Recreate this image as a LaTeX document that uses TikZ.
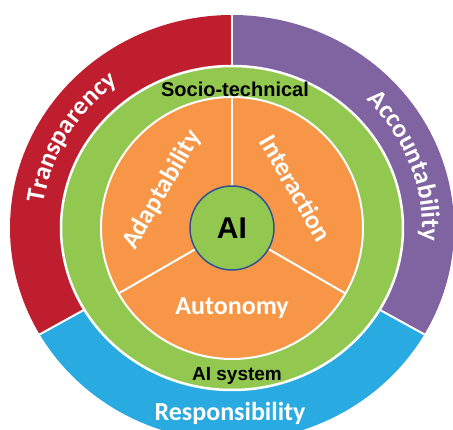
\documentclass[tikz,border=0pt]{standalone}
\usepackage{fontspec}
\setmainfont{Carlito}
\newfontfamily\arialfont{Liberation Sans}
\usetikzlibrary{decorations.text}
\definecolor{tred}{HTML}{BE1E2D}
\definecolor{tpurple}{HTML}{8064A2}
\definecolor{tblue}{HTML}{29ABE2}
\definecolor{tgreen}{HTML}{92C850}
\definecolor{torange}{HTML}{F79646}
\definecolor{tline}{HTML}{2F5496}
\tikzset{
  divider/.style={white, line width=2pt},
  ringlabel/.style={font=\fontsize{26pt}{30pt}\selectfont\bfseries, text=white, inner sep=0pt},
  blacklabel/.style={font=\arialfont\fontsize{20pt}{24pt}\selectfont\bfseries, text=black, inner sep=0pt},
}
\begin{document}
\begin{tikzpicture}[x=1pt,y=1pt]
\useasboundingbox (-232,-202) rectangle (221,228);
\clip (-232,-202) rectangle (221,228);
% outer ring sectors
\fill[tred] (0,0) -- (90:222pt and 213pt) arc[start angle=90,end angle=210,x radius=222pt,y radius=213pt] -- cycle;
\fill[tpurple] (0,0) -- (-30:222pt and 213pt) arc[start angle=-30,end angle=90,x radius=222pt,y radius=213pt] -- cycle;
\fill[tblue] (0,0) -- (210:222pt and 213pt) arc[start angle=210,end angle=330,x radius=222pt,y radius=213pt] -- cycle;
\foreach \a in {90,210,330} \draw[divider] (0,0) -- (\a:240pt and 230pt);
% curved labels
\path[decorate, decoration={text along path, text align=center,
  text={|\fontsize{26pt}{30pt}\selectfont\bfseries\color{white}|Transparency}}]
  (200:190pt and 181pt) arc[start angle=200,end angle=100,x radius=190pt,y radius=181pt];
\path[decorate, decoration={text along path, text align=center,
  text={|\fontsize{26pt}{30pt}\selectfont\bfseries\color{white}|Accountability}}]
  (80:190pt and 181pt) arc[start angle=80,end angle=-40,x radius=190pt,y radius=181pt];
% green ring
\draw[white, line width=2.5pt, fill=tgreen] (0,0) ellipse[x radius=171pt, y radius=162pt];
% orange disc
\draw[white, line width=2pt, fill=torange] (0,0) circle[radius=131pt];
\foreach \a in {90,210,330} \draw[divider] (0,0) -- (\a:131pt);
% centre
\node[circle, draw=tline, line width=1.5pt, fill=tgreen, minimum size=84pt, inner sep=0pt,
  font=\arialfont\fontsize{30pt}{34pt}\selectfont\bfseries] (ai) at (0,0) {AI};
% labels
\node[ringlabel, rotate=60] (adapt) at (-70,38) {Adaptability};
\node[ringlabel, rotate=-60] (inter) at (64,40) {Interaction};
\node[ringlabel] (auto) at (0,-80) {Autonomy};
\node[blacklabel] (socio) at (3,139) {Socio-technical};
\node[blacklabel, font=\arialfont\fontsize{19pt}{23pt}\selectfont\bfseries] (sys) at (5,-148) {AI system};
\node[ringlabel] (resp) at (-2,-185) {Responsibility};
\end{tikzpicture}
\end{document}
